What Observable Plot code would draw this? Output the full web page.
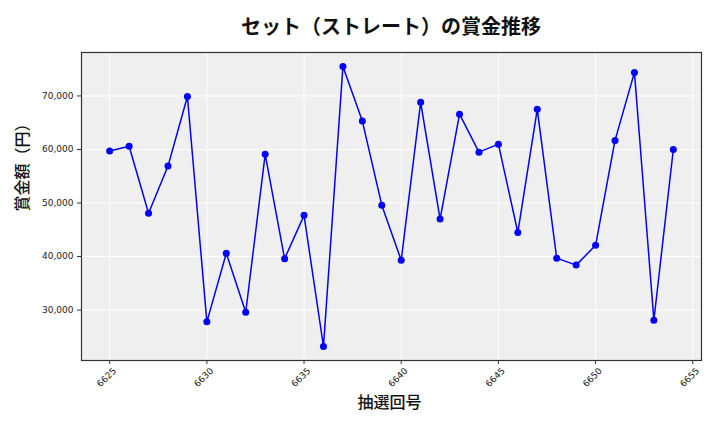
<!DOCTYPE html>
<html>
<head>
<meta charset="utf-8">
<script src="https://cdn.jsdelivr.net/npm/d3@7"></script>
<script src="https://cdn.jsdelivr.net/npm/@observablehq/plot@0.6"></script>
<style>
  body { margin: 0; background: #fff; }
  #wrap { width: 720px; height: 432px; overflow: hidden; }
  #title {
    width: 720px; height: 45px; box-sizing: border-box;
    padding-left: 62px; padding-top: 6px;
    text-align: center; line-height: 39px;
    font-family: "Noto Sans CJK JP", sans-serif; font-weight: bold; font-size: 20px; color: #111;
  }
</style>
</head>
<body>
<div id="wrap">
  <div id="title">セット（ストレート）の賞金推移</div>
  <div id="chart"></div>
</div>
<script>
const draws = [6625, 6626, 6627, 6628, 6629, 6630, 6631, 6632, 6633, 6634,
               6635, 6636, 6637, 6638, 6639, 6640, 6641, 6642, 6643, 6644,
               6645, 6646, 6647, 6648, 6649, 6650, 6651, 6652, 6653, 6654];
const prizes = [59700, 60600, 48100, 56900, 69900, 27800, 40600, 29600, 59100, 39600,
                47700, 23200, 75500, 65300, 49600, 39300, 68800, 47000, 66600, 59500,
                61000, 44500, 67500, 39700, 38400, 42100, 61700, 74400, 28100, 60000];
const xTicks = [6625, 6630, 6635, 6640, 6645, 6650, 6655];
const yTicks = [30000, 40000, 50000, 60000, 70000];
const xLabel = "抽選回号";
const yLabel = "賞金額（円）";

const data = draws.map((d, i) => ({draw: d, prize: prizes[i]}));

const xMin = d3.min(draws), xMax = d3.max(draws);
const yMin = d3.min(prizes), yMax = d3.max(prizes);
const xPad = (xMax - xMin) * 0.05, yPad = (yMax - yMin) * 0.05;

const tickFont = "DejaVu Sans, sans-serif";
const cjkFont = "Noto Sans CJK JP, sans-serif";

const chart = Plot.plot({
  width: 720,
  height: 387,
  marginTop: 7,
  marginBottom: 72,
  marginLeft: 81,
  marginRight: 19,
  style: {fontFamily: tickFont, fontSize: "9px", color: "#222", background: "#fff"},
  x: {domain: [xMin - xPad, xMax + xPad]},
  y: {domain: [yMin - yPad, yMax + yPad]},
  marks: [
    Plot.frame({fill: "#efefef", stroke: null}),
    Plot.gridX(xTicks, {stroke: "#fff", strokeOpacity: 1, strokeWidth: 1}),
    Plot.gridY(yTicks, {stroke: "#fff", strokeOpacity: 1, strokeWidth: 1}),
    Plot.axisY(yTicks, {tickFormat: d3.format(","), tickSize: 4, tickPadding: 4, label: null, fontSize: 9, stroke: "#333"}),
    Plot.axisX(xTicks, {tickFormat: () => "", tickSize: 4, label: null, stroke: "#333"}),
    Plot.text(xTicks, {x: d => d, frameAnchor: "bottom", dy: 19, dx: -1, rotate: -45, text: d => String(d), fontSize: 9, textAnchor: "middle", fill: "#222"}),
    Plot.line(data, {x: "draw", y: "prize", stroke: "#0000ff", strokeWidth: 1.5}),
    Plot.dot(data, {x: "draw", y: "prize", r: 3.5, fill: "#0000ff", stroke: null}),
    Plot.frame({stroke: "#333", strokeWidth: 1.2}),
    Plot.text([xLabel], {frameAnchor: "bottom", dy: 47, dx: -2, fontSize: 16, fontWeight: 500, fontFamily: cjkFont, fill: "#111"}),
    Plot.text([yLabel], {frameAnchor: "left", dx: -59, dy: 5, rotate: -90, fontSize: 16, fontWeight: 500, fontFamily: cjkFont, fill: "#111"})
  ]
});
document.getElementById("chart").appendChild(chart);
</script>
</body>
</html>
